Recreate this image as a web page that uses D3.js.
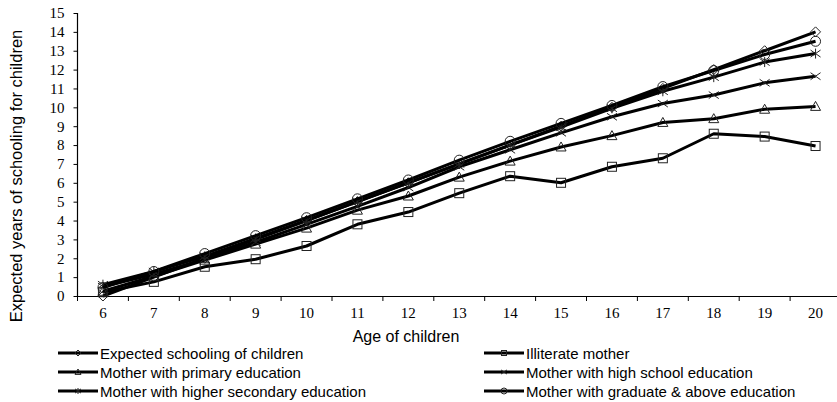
<!DOCTYPE html>
<html>
<head>
<meta charset="utf-8">
<script src="https://cdn.jsdelivr.net/npm/d3@7"></script>
<style>
  html, body { margin: 0; padding: 0; background: #fff; }
  svg { display: block; }
</style>
</head>
<body>
<svg id="chart" width="837" height="402"></svg>
<script>
// Age of children (x categories)
const ages = [6, 7, 8, 9, 10, 11, 12, 13, 14, 15, 16, 17, 18, 19, 20];
const yTicks = [0, 1, 2, 3, 4, 5, 6, 7, 8, 9, 10, 11, 12, 13, 14, 15];

// Expected years of schooling by mother's education
const expectedSchooling = [0, 1, 2, 3, 4, 5, 6, 7, 8, 9, 10, 11, 12, 13, 14];
const illiterateMother = [0.2, 0.75, 1.55, 1.95, 2.65, 3.8, 4.45, 5.45, 6.35, 6.0, 6.85, 7.3, 8.6, 8.45, 7.95];
const primaryEducation = [0.25, 1.05, 1.9, 2.75, 3.6, 4.55, 5.3, 6.3, 7.15, 7.9, 8.5, 9.2, 9.4, 9.9, 10.05];
const highSchoolEducation = [0.5, 1.15, 1.95, 2.85, 3.8, 4.75, 5.75, 6.85, 7.75, 8.65, 9.5, 10.2, 10.65, 11.3, 11.65];
const higherSecondaryEducation = [0.6, 1.3, 2.1, 3.05, 4.0, 5.0, 6.0, 7.0, 8.0, 8.95, 9.95, 10.85, 11.6, 12.4, 12.85];
const graduateEducation = [0.45, 1.3, 2.25, 3.2, 4.15, 5.15, 6.15, 7.2, 8.2, 9.15, 10.1, 11.1, 11.95, 12.8, 13.5];

const seriesNames = [
  "Expected schooling of children",
  "Illiterate mother",
  "Mother with primary education",
  "Mother with high school education",
  "Mother with higher secondary education",
  "Mother with graduate & above education"
];
const seriesValues = [expectedSchooling, illiterateMother, primaryEducation,
  highSchoolEducation, higherSecondaryEducation, graduateEducation];
const markerKinds = ["diamond", "square", "triangle", "cross", "asterisk", "circle"];

const svg = d3.select("#chart");
const plot = { left: 77.5, right: 841, top: 13, bottom: 296 };
const serif = "Liberation Serif, Times New Roman, serif";
const sans = "Liberation Sans, Arial, sans-serif";

const x = d3.scaleBand().domain(ages).range([plot.left, plot.right]).paddingInner(0).paddingOuter(0);
const y = d3.scaleLinear().domain([0, 15]).range([plot.bottom, plot.top]);

// Axes
const xAxis = svg.append("g").attr("transform", `translate(0,${plot.bottom})`)
  .call(d3.axisBottom(x).tickSize(0).tickPadding(11));
xAxis.select(".domain").attr("stroke", "#000").attr("stroke-width", 1.2);
xAxis.selectAll("text").attr("font-family", serif).attr("font-size", 15).attr("fill", "#000");
// tick marks at category boundaries
const bounds = ages.map(a => x(a)).concat([x(ages[ages.length - 1]) + x.bandwidth()]);
xAxis.selectAll("line.bound").data(bounds).join("line").attr("class", "bound")
  .attr("x1", d => d).attr("x2", d => d).attr("y1", 0).attr("y2", 5)
  .attr("stroke", "#000").attr("stroke-width", 1);

const yAxis = svg.append("g").attr("transform", `translate(${plot.left},0)`)
  .call(d3.axisLeft(y).tickValues(yTicks).tickSize(4).tickPadding(9));
yAxis.select(".domain").attr("stroke", "#000").attr("stroke-width", 1.2)
  .attr("d", `M0,${plot.top}V${plot.bottom}`);
yAxis.selectAll(".tick line").attr("stroke", "#000");
yAxis.selectAll("text").attr("font-family", serif).attr("font-size", 15).attr("fill", "#000");

// Axis titles
svg.append("text").attr("x", 406).attr("y", 341.5).attr("text-anchor", "middle")
  .attr("font-family", sans).attr("font-size", 16)
  .text("Age of children");
svg.append("text").attr("transform", "translate(21.5,176) rotate(-90)")
  .attr("text-anchor", "middle")
  .attr("font-family", sans).attr("font-size", 16.5)
  .text("Expected years of schooling for children");

// Marker drawing
function drawMarker(g, kind, cx, cy, r) {
  const s = { stroke: "#222", "stroke-width": 1, fill: "none" };
  const apply = sel => { for (const k in s) sel.attr(k, s[k]); return sel; };
  if (kind === "diamond") {
    apply(g.append("path").attr("d", `M${cx},${cy - r}L${cx + r},${cy}L${cx},${cy + r}L${cx - r},${cy}Z`));
  } else if (kind === "square") {
    apply(g.append("rect").attr("x", cx - r + 0.5).attr("y", cy - r + 0.5)
      .attr("width", 2 * r - 1).attr("height", 2 * r - 1));
  } else if (kind === "triangle") {
    apply(g.append("path").attr("d", `M${cx},${cy - r}L${cx + r},${cy + r * 0.8}L${cx - r},${cy + r * 0.8}Z`));
  } else if (kind === "cross") {
    apply(g.append("path").attr("d", `M${cx - r},${cy - r * 0.7}L${cx + r},${cy + r * 0.7}M${cx - r},${cy + r * 0.7}L${cx + r},${cy - r * 0.7}`));
  } else if (kind === "asterisk") {
    apply(g.append("path").attr("d", `M${cx - r},${cy - r * 0.7}L${cx + r},${cy + r * 0.7}M${cx - r},${cy + r * 0.7}L${cx + r},${cy - r * 0.7}M${cx},${cy - r}L${cx},${cy + r}`));
  } else if (kind === "circle") {
    apply(g.append("circle").attr("cx", cx).attr("cy", cy).attr("r", r));
  }
}

const line = d3.line()
  .x((d, i) => x(ages[i]) + x.bandwidth() / 2)
  .y(d => y(d));

const seriesG = svg.append("g");
seriesValues.forEach((vals, si) => {
  const g = seriesG.append("g");
  g.append("path").attr("d", line(vals)).attr("fill", "none")
    .attr("stroke", "#000").attr("stroke-width", 3).attr("stroke-linejoin", "round");
  vals.forEach((v, i) => {
    drawMarker(g, markerKinds[si], x(ages[i]) + x.bandwidth() / 2, y(v), 5);
  });
});

// Legend
const legendCols = [58, 484];
const legendRows = [353, 372, 391];
seriesNames.forEach((name, i) => {
  const lx = legendCols[i % 2];
  const ly = legendRows[Math.floor(i / 2)];
  const g = svg.append("g");
  g.append("line").attr("x1", lx).attr("x2", lx + 40).attr("y1", ly).attr("y2", ly)
    .attr("stroke", "#000").attr("stroke-width", 3);
  drawMarker(g, markerKinds[i], lx + 20, ly, 3);
  g.append("text").attr("x", lx + 42).attr("y", ly + 5.5)
    .attr("font-family", sans).attr("font-size", 15)
    .text(name);
});
</script>
</body>
</html>
